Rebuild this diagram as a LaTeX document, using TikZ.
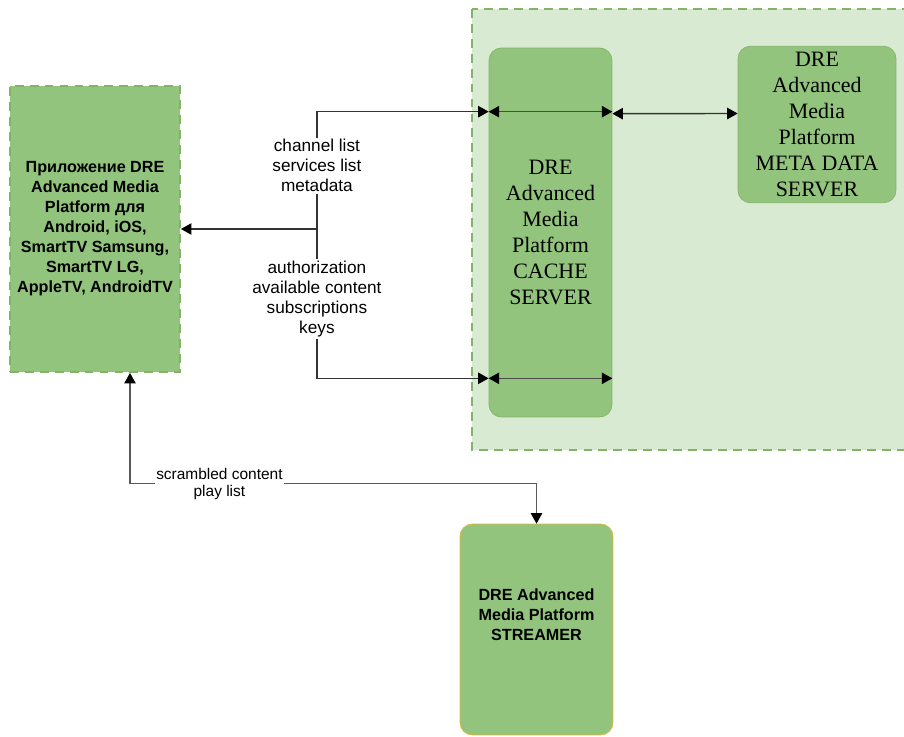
\documentclass[tikz,border=0pt]{standalone}
\usepackage{fontspec}
\setmainfont{Liberation Serif}
\setsansfont{Liberation Sans}
\usetikzlibrary{arrows.meta}
\definecolor{bggreen}{HTML}{D9EAD3}
\definecolor{boxgreen}{HTML}{93C47D}
\definecolor{edgegreen}{HTML}{82B366}
\definecolor{edgegold}{HTML}{E5B92E}
\definecolor{linkgray}{HTML}{333333}
\tikzset{
  zone/.style={draw=edgegreen, fill=bggreen, line width=1.1pt, dash pattern=on 5pt off 3.5pt},
  appbox/.style={draw=edgegreen, fill=boxgreen, line width=1.1pt, dash pattern=on 5pt off 3.5pt,
    align=center, font=\sffamily\bfseries\fontsize{9.2}{11.4}\selectfont},
  srvbox/.style={draw=edgegreen, fill=boxgreen, rounded corners=7pt, align=center,
    font=\fontsize{12.5}{14.8}\selectfont},
  strbox/.style={draw=edgegold, fill=boxgreen, rounded corners=7pt, align=center,
    font=\sffamily\bfseries\fontsize{9.2}{11.4}\selectfont},
  lbl/.style={fill=white, inner sep=1pt, align=center, font=\sffamily\fontsize{9.8}{11.4}\selectfont},
  link/.style={draw=linkgray, line width=0.8pt},
  tip/.tip={Triangle[length=6pt,width=6.5pt,color=black]}
}
\begin{document}
\begin{tikzpicture}[x=0.02cm,y=-0.02cm]
  \useasboundingbox (0,0) rectangle (904,737);
  % background zone
  \draw[zone] (472,9) rectangle (930,450);

  \node[appbox, minimum width=3.4cm, minimum height=5.72cm] (app) at (95,229)
    {Приложение DRE\\Advanced Media\\Platform для\\Android, iOS,\\SmartTV Samsung,\\SmartTV LG,\\AppleTV, AndroidTV};
  \node[srvbox, minimum width=2.46cm, minimum height=7.38cm] (cache) at (550.5,232.5)
    {DRE\\Advanced\\Media\\Platform\\CACHE\\SERVER};
  \node[srvbox, minimum width=3.16cm, minimum height=3.06cm] (meta) at (817,124.5)
    {DRE\\Advanced\\Media\\Platform\\META DATA\\SERVER};
  \node[strbox, minimum width=3.06cm, minimum height=4.22cm] (streamer) at (536.5,629.5)
    {DRE Advanced\\Media Platform\\STREAMER\\[6pt]};

  \coordinate (hub) at ([xshift=2.72cm]app.east);
  \coordinate (cachetop) at ([yshift=-1.28cm]cache.north west);
  \coordinate (cachetopr) at ([yshift=-1.28cm]cache.north east);
  \coordinate (cachebot) at ([yshift=0.78cm]cache.south west);
  \coordinate (cachebotr) at ([yshift=0.78cm]cache.south east);
  \coordinate (appbot) at ([xshift=0.7cm]app.south);
  \coordinate (bend) at ([yshift=0.8cm]streamer.north);

  % links to the app
  \draw[link, -tip] (hub) -- (app.east);
  \draw[link, -tip] (hub) |- (cachetop)
    node[lbl, pos=0.27] {channel list\\services list\\metadata};
  \draw[link, -tip] (hub) |- (cachebot)
    node[lbl, pos=0.235] {authorization\\available content\\subscriptions\\keys};

  % inside the cache server
  \draw[link, draw=black!70, tip-tip] (cachetop) -- (cachetopr);
  \draw[link, draw=black!70, tip-tip] (cachebot) -- (cachebotr);
  \draw[link, tip-tip] ([yshift=-0.04cm]cachetopr) -- ([yshift=0.22cm]meta.west);

  % streamer
  \draw[link, draw=black!65, tip-] (appbot) |- (bend)
    node[lbl, pos=0.61, font=\sffamily\fontsize{8.8}{9.8}\selectfont] {scrambled content\\play list};
  \draw[link, draw=black!65, -tip] (bend) -- (streamer.north);
\end{tikzpicture}
\end{document}
